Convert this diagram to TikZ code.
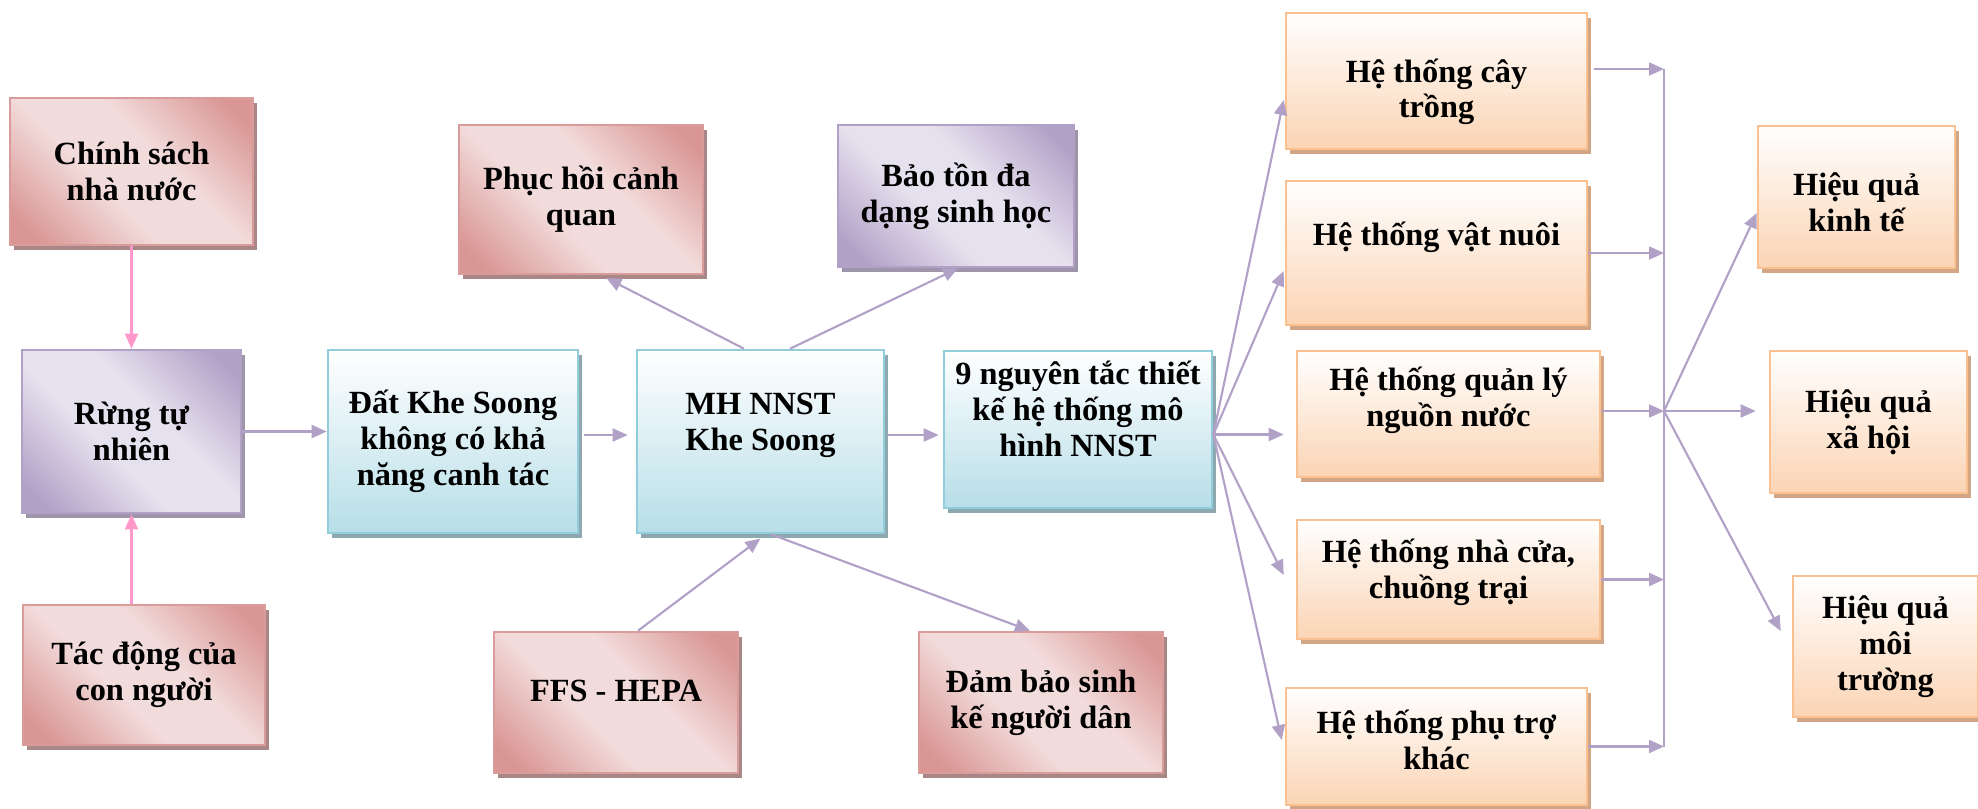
\documentclass[tikz,border=0pt]{standalone}
\usepackage{fontspec}
\setmainfont{Liberation Serif}
\usetikzlibrary{arrows.meta,shadows,positioning}

\definecolor{pkdark}{HTML}{D99694}
\definecolor{pklight}{HTML}{F2DCDB}
\definecolor{pkline}{HTML}{DA9C9A}
\definecolor{pkshadow}{HTML}{A98787}
\definecolor{pudark}{HTML}{B2A1C7}
\definecolor{pulight}{HTML}{E6E1EE}
\definecolor{pushadow}{HTML}{9E95AA}
\definecolor{cyline}{HTML}{92CDDC}
\definecolor{cybot}{HTML}{B7DEE8}
\definecolor{cyshadow}{HTML}{8EA8B0}
\definecolor{orline}{HTML}{FAC090}
\definecolor{orbot}{HTML}{FBD4B4}
\definecolor{orshadow}{HTML}{D2A684}
\definecolor{arrowpu}{HTML}{B2A1C7}
\definecolor{arrowpk}{HTML}{FF99CC}

\pgfdeclarehorizontalshading{pinkdiag}{100bp}{color(0bp)=(pkdark); color(20bp)=(pkdark); color(42bp)=(pklight); color(58bp)=(pklight); color(80bp)=(pkdark); color(100bp)=(pkdark)}
\pgfdeclarehorizontalshading{purplediag}{100bp}{color(0bp)=(pudark); color(20bp)=(pudark); color(42bp)=(pulight); color(58bp)=(pulight); color(80bp)=(pudark); color(100bp)=(pudark)}

% push the text of a box upwards by deepening its last line
\newcommand\liftby[1]{\rule[-#1]{0pt}{#1}}
% push it downwards by heightening its first line
\newcommand\dropby[1]{\rule{0pt}{#1}}

\begin{document}
\begin{tikzpicture}[
        x=0.01cm, y=-0.01cm,
        box/.style={draw, line width=0.7pt, align=center, inner sep=0pt,
            font=\bfseries\fontsize{9.2}{10.2}\selectfont},
        boxsize/.style 2 args={minimum width=#1cm, minimum height=#2cm},
        pinkbox/.style={box, draw=pkline, shading=pinkdiag, shading angle=45,
            drop shadow={shadow xshift=0.04cm, shadow yshift=-0.05cm, fill=pkshadow, opacity=1}},
        purplebox/.style={box, draw=pudark, shading=purplediag, shading angle=45,
            drop shadow={shadow xshift=0.04cm, shadow yshift=-0.05cm, fill=pushadow, opacity=1}},
        cyanbox/.style={box, draw=cyline, top color=white, bottom color=cybot,
            drop shadow={shadow xshift=0.04cm, shadow yshift=-0.05cm, fill=cyshadow, opacity=1}},
        orangebox/.style={box, draw=orline, top color=white, bottom color=orbot,
            drop shadow={shadow xshift=0.04cm, shadow yshift=-0.05cm, fill=orshadow, opacity=1}},
        link/.style={draw=arrowpu, line width=0.6pt, -{Triangle[length=0.15cm, width=0.13cm]}},
        pinklink/.style={link, draw=arrowpk},
        barline/.style={draw=arrowpu, line width=0.6pt}
    ]
        \fill[white] (0,0) rectangle (1978,808);
        \useasboundingbox (0,0) rectangle (1978,808);

        % cột trái
        \node[pinkbox, boxsize={2.43}{1.47}] (chinhsach) at (131.5,171.5) {Chính sách\\nhà nước};
        \node[purplebox, boxsize={2.19}{1.63}] (rung) at (131.5,431.5) {Rừng tự\\nhiên};
        \node[pinkbox, boxsize={2.42}{1.40}] (tacdong) at (144,675) {Tác động của\\con người};

        % hàng giữa
        \node[cyanbox, boxsize={2.50}{1.83}] (dat) at (453,441.5) {Đất Khe Soong\\không có khả\\năng canh tác};
        \node[cyanbox, boxsize={2.47}{1.83}] (mh) at (760.5,441.5) {MH NNST\\Khe Soong\liftby{0.39cm}};
        \node[cyanbox, boxsize={2.68}{1.57}] (nguyentac) at (1078,429.5) {9 nguyên tắc thiết\\kế hệ thống mô\\hình NNST\liftby{0.42cm}};

        % quanh MH
        \node[pinkbox, boxsize={2.44}{1.49}] (phuchoi) at (581,199.5) {Phục hồi cảnh\\quan};
        \node[purplebox, boxsize={2.36}{1.42}] (baoton) at (956,196) {Bảo tồn đa\\dạng sinh học};
        \node[pinkbox, boxsize={2.44}{1.41}] (ffs) at (616,702.5) {FFS - HEPA\liftby{0.24cm}};
        \node[pinkbox, boxsize={2.44}{1.41}] (dambao) at (1041,702.5) {Đảm bảo sinh\\kế người dân};

        % các hệ thống
        \node[orangebox, boxsize={3.01}{1.36}] (caytrong) at (1436.5,81) {\dropby{0.45cm}Hệ thống cây\\trồng};
        \node[orangebox, boxsize={3.01}{1.44}] (vatnuoi) at (1436.5,253) {Hệ thống vật nuôi\liftby{0.39cm}};
        \node[orangebox, boxsize={3.03}{1.26}] (quanly) at (1448.5,414) {Hệ thống quản lý\\nguồn nước\liftby{0.35cm}};
        \node[orangebox, boxsize={3.03}{1.19}] (nhacua) at (1448.5,579.5) {Hệ thống nhà cửa,\\chuồng trại\liftby{0.21cm}};
        \node[orangebox, boxsize={3.01}{1.17}] (phutro) at (1436.5,746.5) {Hệ thống phụ trợ\\khác\liftby{0.14cm}};

        % hiệu quả
        \node[orangebox, boxsize={1.97}{1.42}] (kinhte) at (1856.5,197) {\dropby{0.34cm}Hiệu quả\\kinh tế};
        \node[orangebox, boxsize={1.97}{1.42}] (xahoi) at (1868.5,422) {Hiệu quả\\xã hội};
        \node[orangebox, boxsize={1.85}{1.41}] (moitruong) at (1885.5,646.5) {Hiệu quả\\môi\\trường};

        % tác động lên rừng
        \draw[pinklink] (chinhsach) -- (rung);
        \draw[pinklink] (tacdong.north -| rung.south) -- (rung.south);

        % chuỗi chính
        \draw[link] (rung.east) -- (rung.east -| dat.west);
        \draw[link, shorten <=0.05cm, shorten >=0.08cm] ([yshift=0.065cm]dat.east) -- ([yshift=0.065cm]dat.east -| mh.west);
        \draw[link, shorten <=0.03cm, shorten >=0.04cm] ([yshift=0.065cm]mh.east) -- ([yshift=0.065cm]mh.east -| nguyentac.west);

        % quanh MH
        \draw[link, shorten >=0.06cm] ([xshift=-0.165cm]mh.north) -- ([xshift=0.2cm]phuchoi.south);
        \draw[link] ([xshift=0.295cm]mh.north) -- ([xshift=0.02cm]baoton.south);
        \draw[link, shorten >=0.07cm] ([xshift=0.22cm]ffs.north) -- ([xshift=0.055cm]mh.south);
        \draw[link] ([xshift=0.105cm]mh.south) -- ([xshift=-0.11cm]dambao.north);

        % 9 nguyên tắc → các hệ thống
        \coordinate (fan) at ([yshift=-0.05cm]nguyentac.east);
        \foreach \target/\dx/\dy in {caytrong/-0.01/-0.19, vatnuoi/-0.01/-0.18, nhacua/-0.12/0.045, phutro/-0.03/0.065}{
            \draw[link] (fan) -- ([xshift=\dx cm, yshift=\dy cm]\target.west);
        }
        \draw[link, shorten >=0.12cm] (fan) -- (fan -| quanly.west);

        % các hệ thống → thanh gom
        \coordinate (hub) at (1664,411);
        \draw[link, shorten <=0.06cm] ([yshift=0.12cm]caytrong.east) -- ([yshift=0.12cm]caytrong.east -| hub);
        \foreach \source in {vatnuoi, nhacua, phutro}{
            \draw[link] (\source.east) -- (\source.east -| hub);
        }
        \draw[link] (quanly.east |- hub) -- (hub);
        \draw[barline] ([yshift=0.12cm]caytrong.east -| hub) -- (phutro.east -| hub);

        % thanh gom → hiệu quả
        \draw[link] (hub) -- ([yshift=-0.16cm]kinhte.west);
        \draw[link, shorten >=0.13cm] (hub) -- (hub -| xahoi.west);
        \draw[link] (hub) -- ([xshift=-0.11cm, yshift=0.155cm]moitruong.west);

    \end{tikzpicture}
\end{document}
